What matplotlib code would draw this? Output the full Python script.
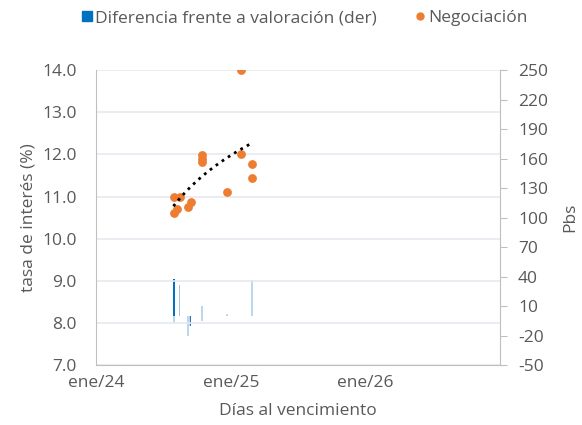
import numpy as np
import matplotlib
matplotlib.use("Agg")
import matplotlib.pyplot as plt
import matplotlib.dates as mdates
from datetime import date

plt.rcParams['font.family'] = ['Open Sans', 'DejaVu Sans']
plt.rcParams['axes.unicode_minus'] = False
gray = '#595959'
fs = 12.5

# Negociación (tasa, %)
neg_dates = [date(2024, 7, 30), date(2024, 8, 15), date(2024, 7, 30), date(2024, 8, 7),
             date(2024, 9, 14), date(2024, 9, 6), date(2024, 10, 14), date(2024, 10, 14),
             date(2024, 10, 14), date(2024, 12, 21), date(2025, 1, 28), date(2025, 1, 28),
             date(2025, 2, 27), date(2025, 2, 27)]
neg_rates = [10.99, 10.99, 10.60, 10.70, 10.87, 10.75, 11.98, 11.89, 11.81, 11.10,
             14.00, 12.00, 11.77, 11.44]

# Diferencia frente a valoración (pbs, eje derecho)
dif_dates = [date(2024, 7, 30), date(2024, 7, 31), date(2024, 8, 15), date(2024, 9, 6),
             date(2024, 9, 9), date(2024, 9, 14), date(2024, 10, 14), date(2024, 10, 15),
             date(2024, 12, 21), date(2025, 2, 27)]
dif_pbs = [38, -7, 31, -20, -10, -10, 10, -5, 2, 37]
dif_colors = ['#0070C0', '#BDD7EE', '#9DC3E6', '#BDD7EE', '#BDD7EE', '#2E75B6',
              '#BDD7EE', '#BDD7EE', '#BDD7EE', '#BDD7EE']

# origen para la línea de tendencia logarítmica
t0 = date(2024, 3, 1)

fig = plt.figure(figsize=(5.82, 4.25), dpi=100)
ax = fig.add_axes([0.165, 0.141, 0.694, 0.694])
ax2 = ax.twinx()

ax2.bar(dif_dates, dif_pbs, width=4, color=dif_colors, zorder=2)
ax2.set_ylim(-50, 250)
ax2.set_yticks(np.arange(-50, 251, 30))

xn = mdates.date2num(neg_dates)
x0 = mdates.date2num(t0)
ax.scatter(neg_dates, neg_rates, s=40, color='#ED7D31', zorder=3, linewidths=0)
coef = np.polyfit(np.log(xn - x0), neg_rates, 1)
xs = np.linspace(xn.min() - 1, xn.max() - 3, 50)
ax.plot(mdates.num2date(xs), np.polyval(coef, np.log(xs - x0)), ':', color='black',
        lw=2, zorder=4)

ax.set_ylim(7, 14)
ax.set_yticks(np.arange(7, 14.1, 1))
ax.yaxis.set_major_formatter(plt.FuncFormatter(lambda v, p: f'{v:.1f}'))
ax.set_xlim(date(2024, 1, 1), date(2027, 1, 1))
ax.set_xticks([date(2024, 1, 1), date(2025, 1, 1), date(2026, 1, 1)])
ax.set_xticklabels(['ene/24', 'ene/25', 'ene/26'])
ax.grid(axis='y', color='#E6E9F0', lw=1.2)
ax.set_axisbelow(True)

# scatter axis above the bars axis
ax.set_zorder(ax2.get_zorder() + 1)
ax.patch.set_visible(False)

for a in (ax, ax2):
    a.spines['top'].set_visible(False)
    for s in ('left', 'right', 'bottom'):
        a.spines[s].set_color('#BFBFBF')
ax.spines['right'].set_visible(False)
ax2.spines['left'].set_visible(False)
ax2.spines['bottom'].set_visible(False)
ax.tick_params(axis='x', length=0, labelsize=fs, colors=gray, pad=7)
ax.tick_params(axis='y', length=0, labelsize=fs, colors=gray, pad=14)
ax2.tick_params(axis='y', length=5, color='#BFBFBF', labelsize=fs, labelcolor=gray, pad=8)

ax.set_ylabel('tasa de interés (%)', fontsize=fs, color=gray, labelpad=4)
ax2.set_ylabel('Pbs', fontsize=fs, color=gray, labelpad=10)
ax.set_xlabel('Días al vencimiento', fontsize=fs, color=gray, labelpad=9)

handles = [plt.Line2D([], [], marker='s', ls='', color='#0070C0', markersize=7),
           plt.Line2D([], [], marker='o', ls='', color='#ED7D31', markersize=5)]
fig.legend(handles, ['Diferencia frente a valoración (der)', 'Negociación'],
           loc='center', bbox_to_anchor=(0.524, 0.957), ncol=2, frameon=False,
           fontsize=fs, labelcolor=gray, handletextpad=0.15, columnspacing=2.2,
           handlelength=0.6)

fig.savefig('out.png', dpi=100)
